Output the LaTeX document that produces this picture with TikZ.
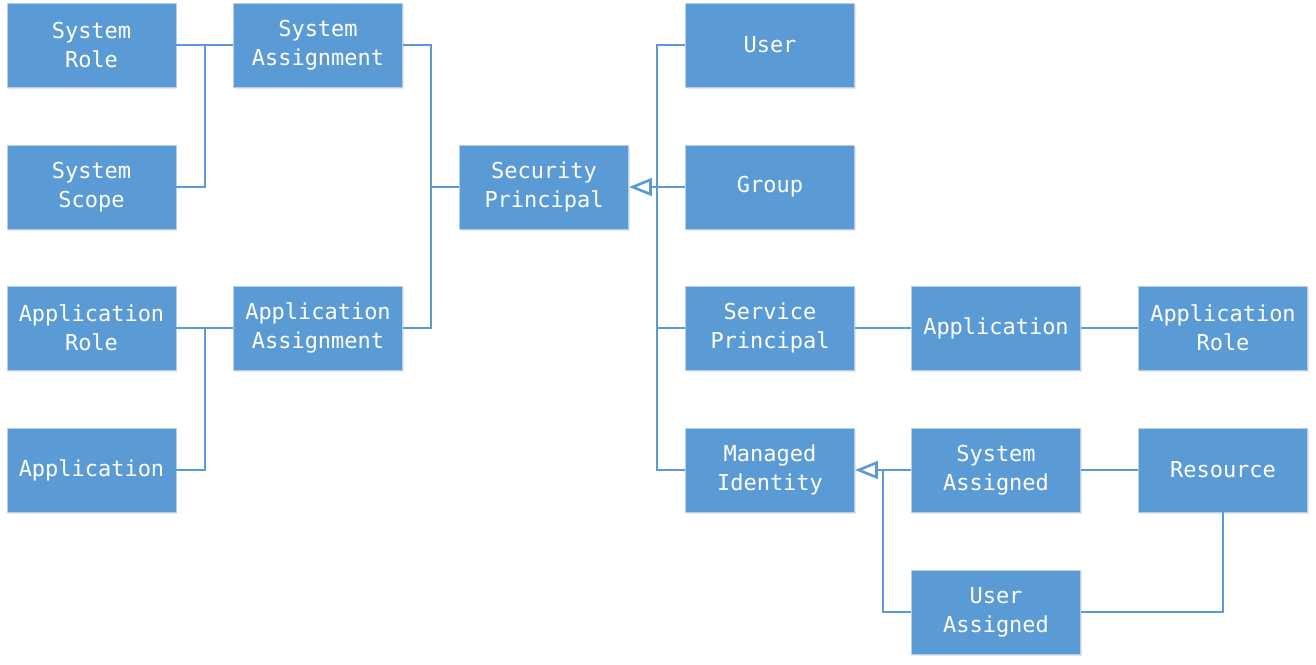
\documentclass[tikz,border=0pt]{standalone}
\usepackage{fontspec}
\usepackage{tikz}
\usetikzlibrary{arrows.meta, shadows}
\newfontfamily\boxfont{DejaVu Sans Mono}
\definecolor{azure}{HTML}{5B9BD5}
\definecolor{azureedge}{HTML}{B4CFEA}

\begin{document}
\begin{tikzpicture}[
    x=0.02cm, y=-0.02cm,
    box/.style={rectangle, draw=azureedge, line width=0.5pt, fill=azure,
                minimum width=3.38cm, minimum height=1.68cm, text=white, align=center,
                font=\boxfont\fontsize{12.5}{16.5}\selectfont,
                drop shadow={opacity=0.18, shadow xshift=0.6pt, shadow yshift=-1.2pt}},
    link/.style={azure, line width=1.1pt},
    isa/.style={link, -{Triangle[open, length=13pt, width=10pt, line width=1.5pt]}}
]
\useasboundingbox (0,0) rectangle (1316,664);

% left: assignments
\node[box] (sysrole)  at (91.5,45)  {System\\Role};
\node[box] (sysscope) at (91.5,187) {System\\Scope};
\node[box] (approle)  at (91.5,328) {Application\\Role};
\node[box] (appl)     at (91.5,470) {Application};
\node[box] (sysasg)   at (318,45)   {System\\Assignment};
\node[box] (appasg)   at (318,328)  {Application\\Assignment};
\node[box] (secp)     at (544,187)  {Security\\Principal};

% right: principal kinds
\node[box] (user)     at (770,45)   {User};
\node[box] (group)    at (770,187)  {Group};
\node[box] (svcp)     at (770,328)  {Service\\Principal};
\node[box] (mid)      at (770,470)  {Managed\\Identity};
\node[box] (svcapp)   at (996,328)  {Application};
\node[box] (sysasd)   at (996,470)  {System\\Assigned};
\node[box] (usrasd)   at (996,612)  {User\\Assigned};
\node[box] (svcrole)  at (1223,328) {Application\\Role};
\node[box] (res)      at (1223,470) {Resource};

\coordinate (sysjoin) at (205,45);
\coordinate (appjoin) at (205,328);
\coordinate (asgjoin) at (431,187);
\coordinate (kindjoin) at (657,187);
\coordinate (midjoin) at (883,470);

\draw[link] (sysrole) -- (sysasg);
\draw[link] (sysscope.east) -| (sysjoin);
\draw[link] (approle) -- (appasg);
\draw[link] (appl.east) -| (appjoin);
\draw[link] (sysasg.east) -| (asgjoin);
\draw[link] (appasg.east) -| (asgjoin);
\draw[link] (asgjoin) -- (secp.west);

\draw[link] (user.west) -| (kindjoin);
\draw[link] (svcp.west) -| (kindjoin);
\draw[link] (mid.west) -| (kindjoin);
\draw[link] (group.west) -- (kindjoin);
\draw[isa] (kindjoin) -- (secp.east);

\draw[link] (svcp) -- (svcapp);
\draw[link] (svcapp) -- (svcrole);
\draw[link] (sysasd) -- (res);
\draw[link] (res.south) |- (usrasd.east);
\draw[link] (usrasd.west) -| (midjoin);
\draw[link] (sysasd.west) -- (midjoin);
\draw[isa] (midjoin) -- (mid.east);
\end{tikzpicture}
\end{document}
